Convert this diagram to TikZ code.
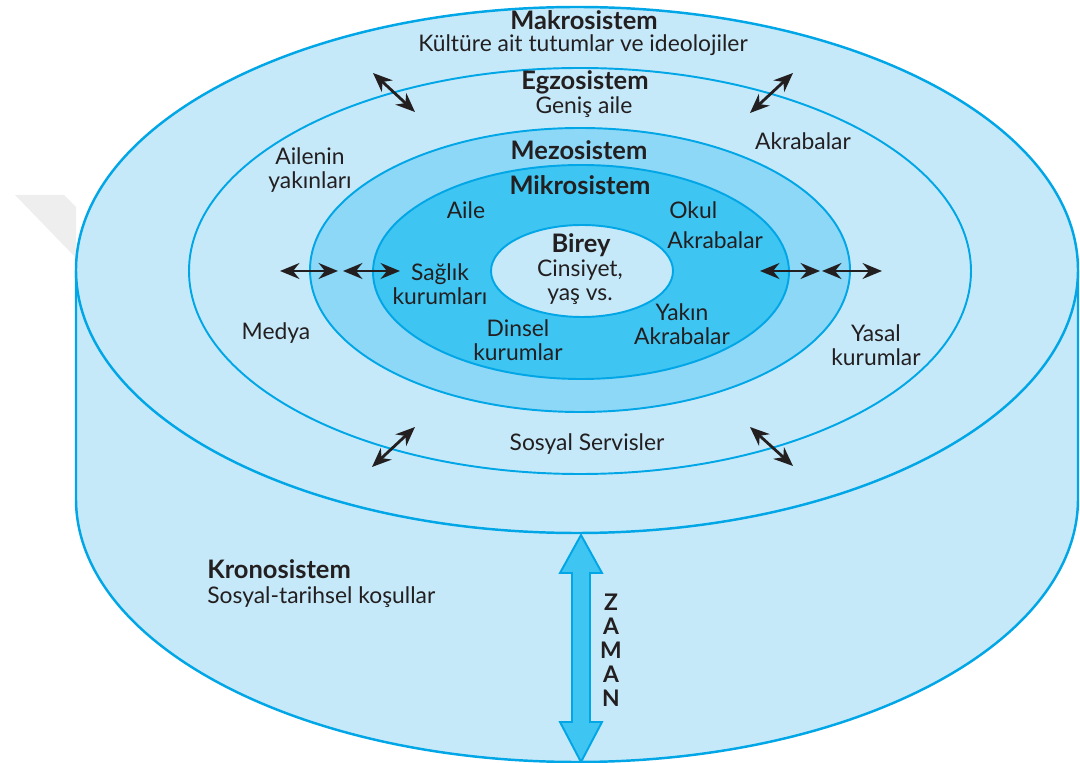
\documentclass[tikz,border=0pt]{standalone}
\usepackage{fontspec}
\setmainfont{Lato}
\usetikzlibrary{arrows.meta}
\definecolor{ringline}{HTML}{00A6E6}
\definecolor{lightband}{HTML}{C6E9FA}
\definecolor{midband}{HTML}{8DD7F7}
\definecolor{darkband}{HTML}{3FC5F2}
\definecolor{inktext}{HTML}{231F20}
\definecolor{markgray}{HTML}{EEEEEE}
\begin{document}
\begin{tikzpicture}[x=0.02cm,y=0.02cm,
  ring/.style={draw=ringline,line width=1.1pt},
  txt/.style={text=inktext,font=\fontsize{13}{13.7}\selectfont,align=center,inner sep=0pt},
  sysname/.style={txt,font=\fontsize{14.5}{13.7}\selectfont\bfseries},
  biarrow/.style={draw=inktext,line width=1.6pt,{Stealth[length=11pt,width=9pt]}-{Stealth[length=11pt,width=9pt]}}]
\useasboundingbox (0,0) rectangle (1080,-763);
\fill[markgray] (15,-195) -- (64,-195) -- (76,-207) -- (76,-258) -- cycle;

\fill[lightband] (76,-270) -- (76,-499) arc[start angle=180,end angle=360,x radius=501,y radius=263] -- (1078,-270) -- cycle;
\draw[ring,line width=1.4pt] (76,-270) -- (76,-499) arc[start angle=180,end angle=360,x radius=501,y radius=263] -- (1078,-270);
\draw[ring,line width=1.4pt,fill=lightband] (577,-270) ellipse [x radius=501,y radius=263];
\draw[ring] (580,-271) ellipse [x radius=391,y radius=203];
\draw[ring,fill=midband] (580,-270) ellipse [x radius=270,y radius=142];
\draw[ring,fill=darkband] (581,-272) ellipse [x radius=208,y radius=107];
\draw[ring,fill=lightband] (582,-271) ellipse [x radius=91,y radius=46];

\draw[ring,fill=darkband,line join=miter] (581,-535) -- (602,-573) -- (590,-573) -- (590,-722) -- (602,-722) -- (581,-762) -- (560,-722) -- (572,-722) -- (572,-573) -- (560,-573) -- cycle;

\coordinate (la1) at (280,-271);
\coordinate (la2) at (338,-271);
\coordinate (lb1) at (343,-271);
\coordinate (lb2) at (400,-271);
\coordinate (ra1) at (760,-271);
\coordinate (ra2) at (820,-271);
\coordinate (rb1) at (822,-271);
\coordinate (rb2) at (882,-271);
\coordinate (ul1) at (373,-73);
\coordinate (ul2) at (415,-112);
\coordinate (ur1) at (750,-113);
\coordinate (ur2) at (793,-73);
\coordinate (dl1) at (372,-467);
\coordinate (dl2) at (415,-427);
\coordinate (dr1) at (750,-427);
\coordinate (dr2) at (793,-466);
\draw[biarrow] (la1) -- (la2);
\draw[biarrow] (lb1) -- (lb2);
\draw[biarrow] (ra1) -- (ra2);
\draw[biarrow] (rb1) -- (rb2);
\draw[biarrow] (ul1) -- (ul2);
\draw[biarrow] (ur1) -- (ur2);
\draw[biarrow] (dl1) -- (dl2);
\draw[biarrow] (dr1) -- (dr2);

\node[sysname] (makro) at (584,-20) {Makrosistem};
\node[txt] (kultur) at (583,-45) {Kültüre ait tutumlar ve ideolojiler};
\node[sysname] (egzo) at (585,-82) {Egzosistem};
\node[txt] (genis) at (584,-107) {Geniş aile};
\node[txt] (akraba) at (803,-141) {Akrabalar};
\node[txt] (yakinlar) at (310,-170) {Ailenin\\yakınları};
\node[sysname] (mezo) at (579,-150) {Mezosistem};
\node[sysname] (mikro) at (580,-185) {Mikrosistem};
\node[txt] (aile) at (466,-210) {Aile};
\node[txt,anchor=west] (okul) at (669,-210) {Okul};
\node[txt,anchor=west] (akrabaiki) at (667,-240) {Akrabalar};
\node[sysname] (birey) at (581,-245) {Birey};
\node[txt] (cinsiyet) at (580,-282) {Cinsiyet,\\yaş vs.};
\node[txt] (saglik) at (440,-284) {Sağlık\\kurumları};
\node[txt] (dinsel) at (518,-340) {Dinsel\\kurumlar};
\node[txt] (yakin) at (682,-324) {Yakın\\Akrabalar};
\node[txt] (medya) at (276,-333) {Medya};
\node[txt] (yasal) at (876,-345) {Yasal\\kurumlar};
\node[txt] (servis) at (587,-444) {Sosyal Servisler};
\node[sysname,anchor=west] (krono) at (207,-569) {Kronosistem};
\node[txt,anchor=west] (kosul) at (207,-597) {Sosyal-tarihsel koşullar};
\node[sysname,font=\fontsize{13}{13.7}\selectfont\bfseries] (zaman) at (611,-650) {Z\\A\\M\\A\\N};
\end{tikzpicture}
\end{document}
